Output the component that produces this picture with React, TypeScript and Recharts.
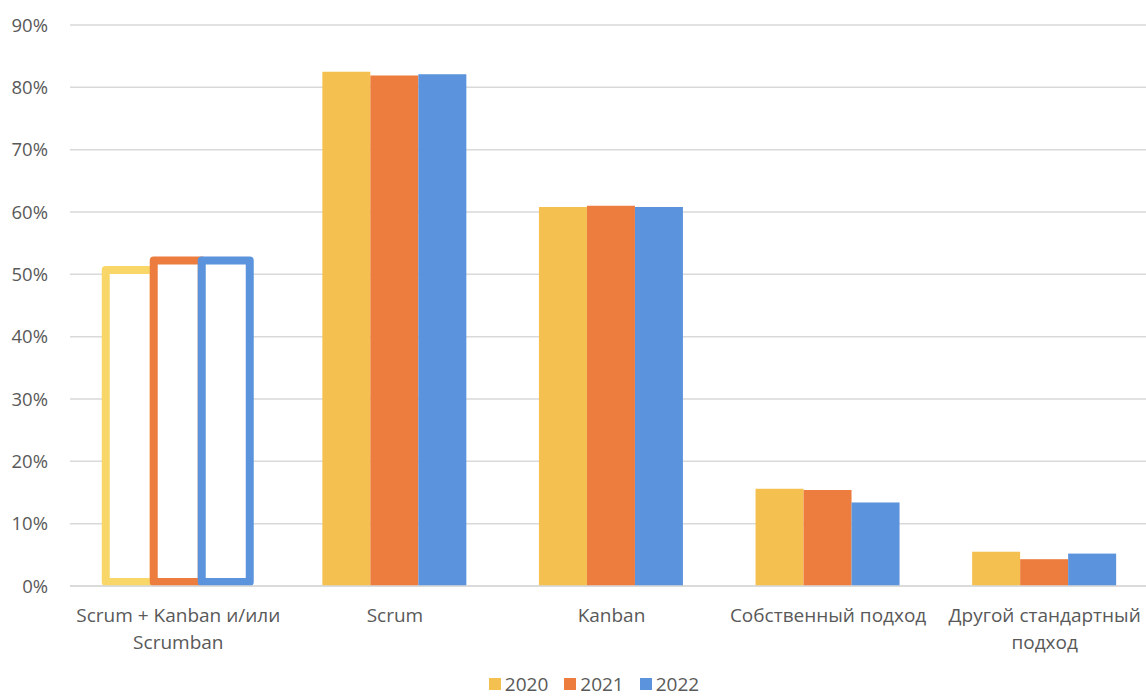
import { BarChart, Bar, XAxis, YAxis, CartesianGrid, Legend } from 'recharts'

const categories = [
  'Scrum + Kanban и/или\nScrumban',
  'Scrum',
  'Kanban',
  'Собственный подход',
  'Другой стандартный\nподход',
]
const values2020 = [50.7, 82.5, 60.8, 15.6, 5.5]
const values2021 = [52.2, 81.9, 61.0, 15.4, 4.3]
const values2022 = [52.2, 82.1, 60.8, 13.4, 5.2]
const yTicks = [0, 10, 20, 30, 40, 50, 60, 70, 80, 90]

// first category is drawn as hollow (outlined) bars
const outlinedIndex = 0

const series = [
  { key: 'y2020', name: '2020', color: '#F4C150', outline: '#F8D768' },
  { key: 'y2021', name: '2021', color: '#EC7D3F', outline: '#EC7D3F' },
  { key: 'y2022', name: '2022', color: '#5B93DC', outline: '#5B93DC' },
]

const data = categories.map((c, i) => ({
  category: c,
  y2020: values2020[i],
  y2021: values2021[i],
  y2022: values2022[i],
}))

const font = '"Open Sans", "Noto Sans", sans-serif'
const textColor = '#595959'

function CategoryTick({ x, y, payload }: any) {
  const lines = String(payload.value).split('\n')
  return (
    <text x={x} y={y + 30} textAnchor="middle" fill={textColor} fontSize={19} fontFamily={font}>
      {lines.map((l, i) => (
        <tspan key={i} x={x} dy={i === 0 ? 0 : 27}>
          {l}
        </tspan>
      ))}
    </text>
  )
}

function LegendContent() {
  return (
    <div
      style={{
        display: 'flex',
        justifyContent: 'center',
        height: 24,
        paddingBottom: 4,
        boxSizing: 'border-box',
        alignItems: 'center',
        fontFamily: font,
        fontSize: 19,
        lineHeight: '20px',
        color: textColor,
      }}
    >
      {series.map((s) => (
        <div key={s.key} style={{ display: 'flex', alignItems: 'center', margin: '0 8px' }}>
          <span style={{ width: 12, height: 12, background: s.color, marginRight: 4, display: 'inline-block' }} />
          <span>{s.name}</span>
        </div>
      ))}
    </div>
  )
}

function makeShape(color: string, outline: string) {
  return (props: any) => {
    const { x, y, width, height, index } = props
    if (index === outlinedIndex) {
      const sw = 8
      return (
        <rect
          x={x}
          y={y}
          width={width}
          height={Math.max(0, height - sw / 2)}
          fill="#ffffff"
          stroke={outline}
          strokeWidth={sw}
          strokeLinejoin="round"
        />
      )
    }
    return <rect x={x} y={y} width={width} height={height} fill={color} />
  }
}

export default function App() {
  return (
    <div style={{ position: 'absolute', left: 0, top: 0, width: 1146, height: 698, overflow: 'hidden', background: '#fff' }}>
      <BarChart
        width={1160}
        height={698}
        data={data}
        margin={{ top: 25, right: 7, bottom: 0, left: 0 }}
        barCategoryGap="16.5%"
        barGap={0}
      >
        <CartesianGrid vertical={false} stroke="#d9d9d9" strokeWidth={1.5} />
        <XAxis
          dataKey="category"
          interval={0}
          axisLine={{ stroke: '#d9d9d9', strokeWidth: 1.5 }}
          tickLine={false}
          tickMargin={0}
          height={88}
          tick={<CategoryTick />}
        />
        <YAxis
          domain={[0, 90]}
          ticks={yTicks}
          width={70}
          axisLine={false}
          tickLine={false}
          tickMargin={16}
          tickFormatter={(v: number) => `${v}%`}
          tick={{ fontSize: 18.5, fill: textColor, fontFamily: font }}
        />
        <Legend verticalAlign="bottom" content={<LegendContent />} wrapperStyle={{ left: 0, width: 1188 }} />
        {series.map((s) => (
          <Bar
            key={s.key}
            dataKey={s.key}
            name={s.name}
            fill={s.color}
            isAnimationActive={false}
            shape={makeShape(s.color, s.outline)}
          />
        ))}
      </BarChart>
    </div>
  )
}
